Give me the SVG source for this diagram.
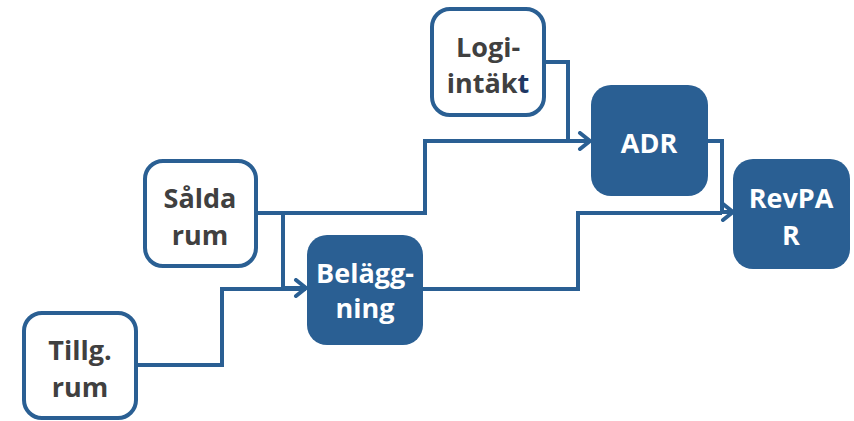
<svg xmlns="http://www.w3.org/2000/svg" width="854" height="421" viewBox="0 0 854 421">
<style>
.wb{fill:#ffffff;stroke:#2a5f93;stroke-width:4}
.bb{fill:#2a5f93;stroke:none}
.tw{font-family:"Open Sans","Liberation Sans",sans-serif;font-weight:700;font-size:27px;fill:#ffffff;text-anchor:middle}
.td{font-family:"Open Sans","Liberation Sans",sans-serif;font-weight:700;font-size:27px;fill:#404040;text-anchor:middle}
.c{fill:none;stroke:#2a5f93;stroke-width:4;stroke-linejoin:miter}
</style>
<defs>
<marker id="ah" markerUnits="userSpaceOnUse" markerWidth="20" markerHeight="20" refX="14" refY="10" orient="auto" viewBox="0 0 20 20">
<path d="M4,2 L14,10 L4,18" fill="none" stroke="#2a5f93" stroke-width="4" stroke-linecap="round" stroke-linejoin="miter"/>
</marker>
</defs>
<g id="connectors">
<path class="c" d="M258,213 H425 V141 H590" marker-end="url(#ah)"/>
<path class="c" d="M283,213 V288 H306" marker-end="url(#ah)"/>
<path class="c" d="M138,365 H222 V289 H306"/>
<path class="c" d="M546,62 H568 V141"/>
<path class="c" d="M708,141 H722 V212 H733" marker-end="url(#ah)"/>
<path class="c" d="M423,289 H578 V213 H722"/>
</g>
<g id="salda">
<rect class="wb" x="145" y="161" width="111" height="105" rx="18"/>
<text class="td" x="200" y="208">Sålda</text>
<text class="td" x="200" y="245">rum</text>
</g>
<g id="tillg">
<rect class="wb" x="24" y="313" width="112" height="105" rx="18"/>
<text class="td" x="80" y="360">Tillg.</text>
<text class="td" x="80" y="397">rum</text>
</g>
<g id="logi">
<rect class="wb" x="432" y="9" width="112" height="106" rx="18"/>
<text class="td" x="488" y="57">Logi-</text>
<text class="td" x="488" y="93">intäk<tspan fill="#1f3864">t</tspan></text>
</g>
<g id="belaggning">
<rect class="bb" x="307" y="235" width="116" height="110" rx="20"/>
<text class="tw" x="365" y="283">Belägg-</text>
<text class="tw" x="365" y="318">ning</text>
</g>
<g id="adr">
<rect class="bb" x="591" y="85" width="117" height="111" rx="20"/>
<text class="tw" x="649" y="153">ADR</text>
</g>
<g id="revpar">
<rect class="bb" x="733" y="159" width="117" height="110" rx="20"/>
<text class="tw" x="791" y="208">RevPA</text>
<text class="tw" x="791" y="245">R</text>
</g>
</svg>
